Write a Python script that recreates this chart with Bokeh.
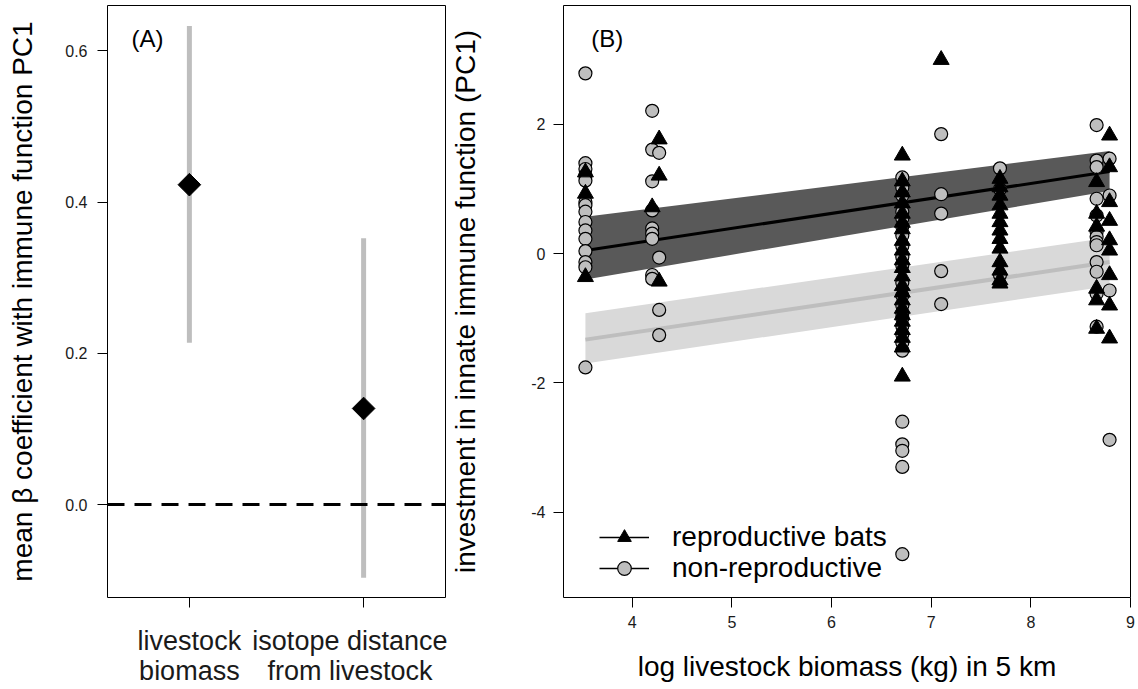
import numpy as np
from bokeh.plotting import figure
from bokeh.layouts import row
from bokeh.models import Range1d, FixedTicker, Span, Label, Legend, LegendItem
from bokeh.embed import file_html
from bokeh.resources import INLINE

FONT = "Liberation Sans"

# ---------------- Panel A data ----------------
coef_pos = [1, 2]
coef_labels = ["livestock\nbiomass", "isotope distance\nfrom livestock"]
coef_mean = [0.423, 0.127]
coef_low = [0.214, -0.097]
coef_high = [0.633, 0.352]
a_ticks = [0.0, 0.2, 0.4, 0.6]
a_tick_labels = ["0.0", "0.2", "0.4", "0.6"]

# ---------------- Panel B data ----------------
rep_x = [3.53, 3.53, 3.53,
         4.20,
         4.27, 4.27, 4.27,
         6.71, 6.71, 6.71, 6.71, 6.71, 6.71, 6.71, 6.71, 6.71, 6.71, 6.71,
         6.71, 6.71, 6.71, 6.71, 6.71, 6.71, 6.71, 6.71, 6.71, 6.71, 6.71,
         7.10,
         7.69, 7.69, 7.69, 7.69, 7.69, 7.69, 7.69, 7.69, 7.69, 7.69, 7.69, 7.69, 7.69,
         8.66, 8.66, 8.66, 8.66, 8.66, 8.66,
         8.79, 8.79, 8.79, 8.79, 8.79, 8.79, 8.79, 8.79, 8.79]
rep_y = [1.26, 0.93, -0.36,
         0.72,
         1.77, 1.21, -0.43,
         1.52, 1.12, 0.95, 0.78, 0.62, 0.48, 0.38, 0.20, 0.05, -0.10, -0.22,
         -0.35, -0.50, -0.60, -0.72, -0.85, -0.95, -1.05, -1.18, -1.30, -1.45, -1.90,
         3.00,
         1.16, 1.03, 0.90, 0.75, 0.62, 0.49, 0.36, 0.23, 0.08, -0.13, -0.26, -0.41, -0.46,
         1.11, 0.62, 0.42, -0.54, -0.72, -1.16,
         1.83, 1.34, 0.80, 0.51, 0.21, 0.05, -0.33, -0.80, -1.31]

non_x = [3.53, 3.53, 3.53, 3.53, 3.53, 3.53, 3.53, 3.53, 3.53, 3.53, 3.53, 3.53, 3.53, 3.53, 3.53,
         4.20, 4.20, 4.20, 4.20, 4.20, 4.20, 4.20, 4.20, 4.20,
         4.27, 4.27, 4.27, 4.27,
         6.71, 6.71, 6.71, 6.71, 6.71, 6.71, 6.71, 6.71, 6.71, 6.71, 6.71, 6.71,
         6.71, 6.71, 6.71, 6.71, 6.71, 6.71, 6.71, 6.71, 6.71, 6.71, 6.71, 6.71,
         7.10, 7.10, 7.10, 7.10, 7.10,
         7.69, 7.69, 7.69,
         8.66, 8.66, 8.66, 8.66, 8.66, 8.66, 8.66, 8.66, 8.66, 8.66, 8.66, 8.66, 8.66,
         8.79, 8.79, 8.79, 8.79]
non_y = [2.79, 1.40, 1.31, 1.21, 1.13, 0.80, 0.75, 0.65, 0.49, 0.36, 0.23, 0.04, -0.13, -0.21, -1.76,
         2.21, 1.61, 1.12, 0.67, 0.39, 0.31, 0.23, -0.33, -0.39,
         1.56, -0.06, -0.87, -1.26,
         1.18, 1.02, 0.90, 0.65, 0.55, 0.42, 0.28, 0.12, -0.05, -0.18, -0.45, -0.65,
         -0.80, -0.92, -1.00, -1.12, -1.25, -1.38, -1.50, -2.60, -2.95, -3.05, -3.30, -4.65,
         1.85, 0.92, 0.62, -0.27, -0.78,
         1.32, 1.00, -0.33,
         1.99, 1.44, 1.34, 0.85, 0.59, 0.34, 0.26, 0.18, 0.13, -0.13, -0.28, -0.62, -1.13,
         1.47, 0.90, -0.57, -2.88]

fit_x = [3.53, 8.79]
rep_fit = [0.05, 1.27]
rep_lo = [-0.40, 0.97]
rep_hi = [0.57, 1.59]
non_fit = [-1.33, -0.13]
non_lo = [-1.70, -0.50]
non_hi = [-0.92, 0.25]

b_xticks = [4, 5, 6, 7, 8, 9]
b_xtick_labels = ["4", "5", "6", "7", "8", "9"]
b_yticks = [-4, -2, 0, 2]
b_ytick_labels = ["-4", "-2", "0", "2"]


def style(p):
    p.outline_line_color = "black"
    p.outline_line_width = 1
    p.background_fill_color = "white"
    p.border_fill_color = "white"
    p.xgrid.visible = False
    p.ygrid.visible = False
    for ax in p.axis:
        ax.axis_line_color = None
        ax.major_tick_line_color = "black"
        ax.major_tick_line_width = 1
        ax.major_tick_out = 10
        ax.major_tick_in = 0
        ax.minor_tick_line_color = None
        ax.major_label_text_font = FONT
        ax.axis_label_text_font = FONT
        ax.axis_label_text_font_style = "normal"
        ax.major_label_text_color = "#1a1a1a"
        ax.axis_label_text_color = "black"


# ---------------- Panel A ----------------
pA = figure(width=447, height=689, output_backend="svg", toolbar_location=None,
            x_range=Range1d(0.53, 2.47), y_range=Range1d(-0.123, 0.660),
            min_border_left=107, min_border_right=2, min_border_top=5, min_border_bottom=92)
style(pA)
pA.segment(x0=coef_pos, y0=coef_low, x1=coef_pos, y1=coef_high,
           line_color="#BEBEBE", line_width=5)
pA.scatter(x=coef_pos, y=coef_mean, marker="square", angle=np.pi / 4, size=16,
           fill_color="black", line_color="black")
pA.add_layout(Span(location=0, dimension="width", line_color="black",
                   line_width=3, line_dash="17 10"))
pA.xaxis.ticker = FixedTicker(ticks=coef_pos)
pA.xaxis.major_label_overrides = {k: v for k, v in zip(coef_pos, coef_labels)}
pA.xaxis.major_label_text_font_size = "27px"
pA.xaxis.major_label_text_line_height = 1.03
pA.xaxis.major_label_standoff = 18
pA.yaxis.ticker = FixedTicker(ticks=a_ticks)
pA.yaxis.major_label_overrides = {k: v for k, v in zip(a_ticks, a_tick_labels)}
pA.yaxis.major_label_text_font_size = "16px"
pA.yaxis.major_label_standoff = 10
pA.yaxis.axis_label = "mean \u03b2 coefficient with immune function PC1"
pA.yaxis.axis_label_text_font_size = "28px"
pA.yaxis.axis_label_standoff = 24
pA.add_layout(Label(x=0.76, y=0.616, text="(A)", text_align="center", text_baseline="middle",
                    text_font=FONT, text_font_size="24px", text_color="black"))

# ---------------- Panel B ----------------
pB = figure(width=691, height=689, output_backend="svg", toolbar_location=None,
            x_range=Range1d(3.31, 9.0), y_range=Range1d(-5.32, 3.84),
            min_border_left=116, min_border_right=8, min_border_top=5, min_border_bottom=92)
style(pB)
pB.varea(x=fit_x, y1=non_lo, y2=non_hi, fill_color="#D9D9D9")
pB.varea(x=fit_x, y1=rep_lo, y2=rep_hi, fill_color="#595959")
pB.line(x=fit_x, y=non_fit, line_color="#BEBEBE", line_width=4)
pB.line(x=fit_x, y=rep_fit, line_color="black", line_width=3)
non_r = pB.scatter(x=non_x, y=non_y, marker="circle", size=13, fill_color="#BEBEBE",
                   line_color="black", line_width=1.2)
rep_r = pB.scatter(x=rep_x, y=rep_y, marker="triangle", size=16, fill_color="black",
                   line_color="black", line_width=1)
leg_line = pB.line(x=[np.nan, np.nan], y=[np.nan, np.nan], line_color="black", line_width=1.3)

pB.xaxis.ticker = FixedTicker(ticks=b_xticks)
pB.xaxis.major_label_overrides = {k: v for k, v in zip(b_xticks, b_xtick_labels)}
pB.xaxis.major_label_text_font_size = "16px"
pB.xaxis.major_label_standoff = 8
pB.xaxis.axis_label = "log livestock biomass (kg) in 5 km"
pB.xaxis.axis_label_text_font_size = "28px"
pB.xaxis.axis_label_standoff = 20
pB.yaxis.ticker = FixedTicker(ticks=b_yticks)
pB.yaxis.major_label_overrides = {k: v for k, v in zip(b_yticks, b_ytick_labels)}
pB.yaxis.major_label_text_font_size = "16px"
pB.yaxis.major_label_standoff = 8
pB.yaxis.axis_label = "investment in innate immune function (PC1)"
pB.yaxis.axis_label_text_font_size = "28px"
pB.yaxis.axis_label_standoff = 47
pB.add_layout(Label(x=3.75, y=3.33, text="(B)", text_align="center", text_baseline="middle",
                    text_font=FONT, text_font_size="24px", text_color="black"))

for lbl, rend, loc in [("reproductive bats", rep_r, (36, 43)),
                       ("non-reproductive", non_r, (36, 12))]:
    lg = Legend(items=[LegendItem(label=lbl, renderers=[leg_line, rend])],
                location=loc, glyph_width=50, glyph_height=34, label_height=34,
                padding=0, margin=0, spacing=0, border_line_color=None,
                background_fill_alpha=0, label_text_font=FONT,
                label_text_font_size="28px", label_standoff=23, label_text_color="black")
    pB.add_layout(lg)

layout = row(pA, pB, spacing=0)
open("out.html", "w").write(file_html(layout, INLINE))
